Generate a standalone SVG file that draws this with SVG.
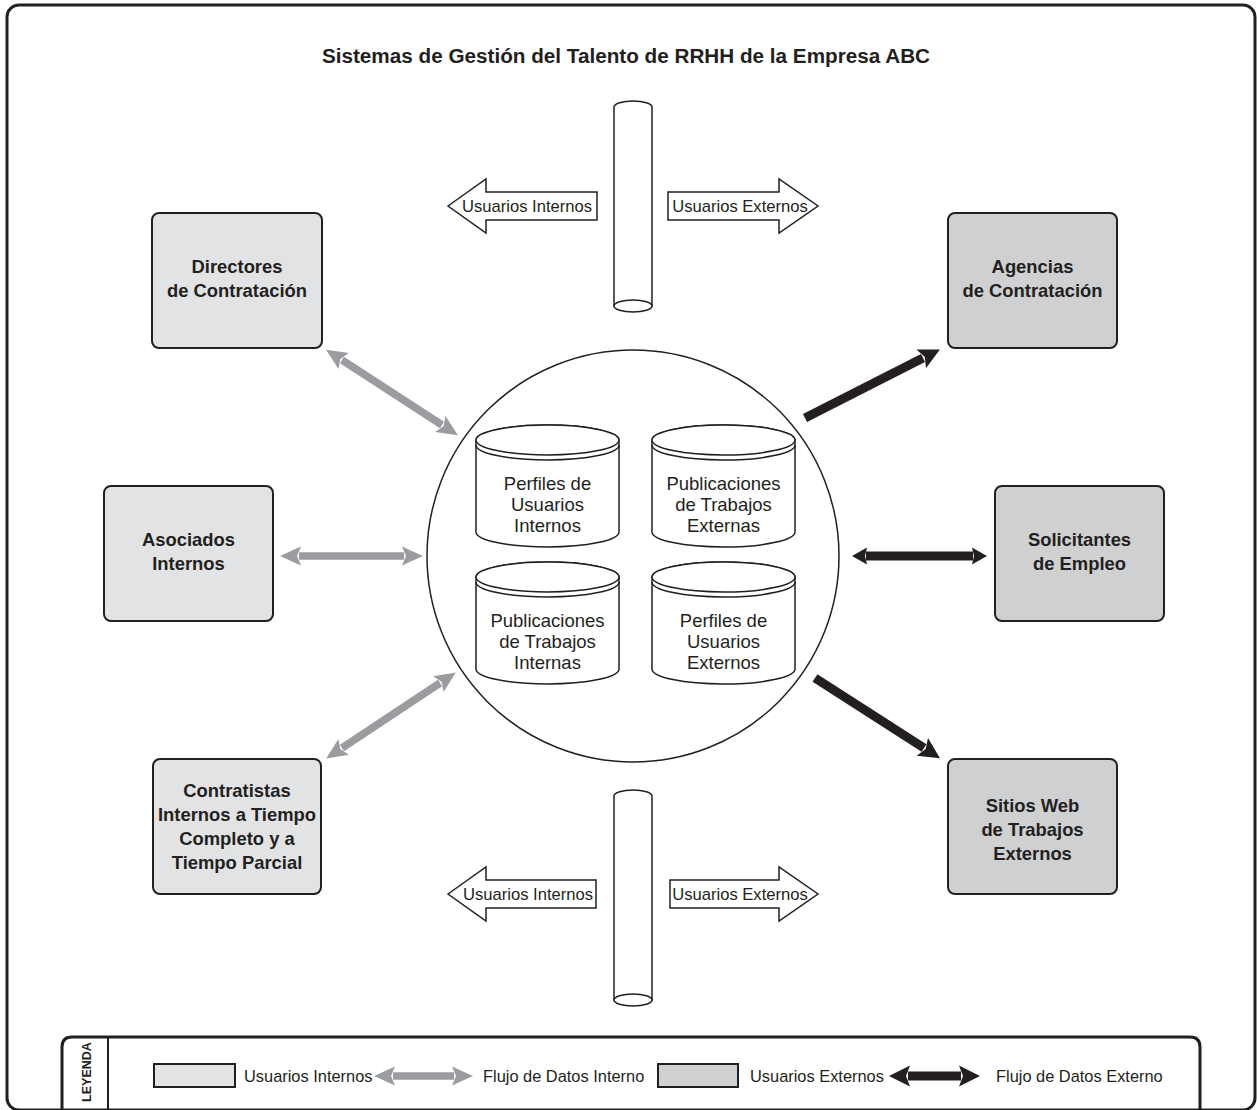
<svg xmlns="http://www.w3.org/2000/svg" xmlns:xlink="http://www.w3.org/1999/xlink" width="1257" height="1110" viewBox="0 0 1257 1110">
<style>
text{font-family:"Liberation Sans",Arial,sans-serif;fill:#231f20}
.title{font-size:20.7px;font-weight:bold}
.bx{font-size:18.4px;font-weight:bold;text-anchor:middle}
.cy{font-size:18.5px;text-anchor:middle}
.ar{font-size:16.6px;text-anchor:middle}
.lg{font-size:16.4px}
.int{fill:#e2e3e5;stroke:#231f20;stroke-width:2}
.ext{fill:#cfd0d2;stroke:#231f20;stroke-width:2}
.blk{fill:#fff;stroke:#231f20;stroke-width:1.5}
.gl{stroke:#9b9c9f;stroke-width:7.5;fill:none}
.bl{stroke:#231f20;stroke-width:9;fill:none}
</style>
<defs>
<marker id="hg" markerUnits="userSpaceOnUse" markerWidth="30" markerHeight="30" refX="0" refY="0" orient="auto-start-reverse" overflow="visible"><path d="M-2,-9.5 L19,0 L-2,9.5 L2,0 Z" fill="#9b9c9f"/></marker>
<marker id="hb" markerUnits="userSpaceOnUse" markerWidth="30" markerHeight="30" refX="0" refY="0" orient="auto-start-reverse" overflow="visible"><path d="M-2,-10.5 L19,0 L-2,10.5 L2,0 Z" fill="#231f20"/></marker>
<marker id="hbs" markerUnits="userSpaceOnUse" markerWidth="30" markerHeight="30" refX="0" refY="0" orient="auto-start-reverse" overflow="visible"><path d="M-1,-8.5 L14,0 L-1,8.5 L1,0 Z" fill="#231f20"/></marker>
<g id="cyl">
<path class="blk" d="M0,0 A71.5,15 0 0 1 143,0 L143,92 A71.5,15 0 0 1 0,92 Z"/>
<ellipse cx="71.5" cy="0" rx="71.5" ry="15" class="blk"/>
<path d="M0,5 A71.5,15 0 0 0 143,5" fill="none" stroke="#231f20" stroke-width="1.5"/>
</g>
</defs>

<rect id="frame" x="7" y="5" width="1248" height="1105" rx="12" fill="#fff" stroke="#231f20" stroke-width="3"/>
<text id="title" class="title" x="626" y="63" text-anchor="middle">Sistemas de Gestión del Talento de RRHH de la Empresa ABC</text>

<g id="pipe-top">
<path class="blk" d="M614,107 A19,6 0 0 1 652,107 L652,306 L614,306 Z"/>
<ellipse cx="633" cy="306" rx="19" ry="6" class="blk"/>
<polygon class="blk" points="448,206 486,179 486,192 597,192 597,220 486,220 486,233"/>
<text class="ar" x="527" y="212">Usuarios Internos</text>
<polygon class="blk" points="668,192 779,192 779,179 818,206 779,233 779,220 668,220"/>
<text class="ar" x="740" y="212">Usuarios Externos</text>
</g>

<g id="pipe-bottom">
<path class="blk" d="M614,796 A19,6 0 0 1 652,796 L652,1000 L614,1000 Z"/>
<ellipse cx="633" cy="1000" rx="19" ry="6" class="blk"/>
<polygon class="blk" points="448,894 486,867 486,880 596,880 596,908 486,908 486,921"/>
<text class="ar" x="528" y="900">Usuarios Internos</text>
<polygon class="blk" points="670,880 779,880 779,867 818,894 779,921 779,908 670,908"/>
<text class="ar" x="740" y="900">Usuarios Externos</text>
</g>

<g id="hub">
<circle cx="633" cy="556" r="206" fill="#fff" stroke="#231f20" stroke-width="1.5"/>
</g>

<g id="db-perfiles-internos">
<use xlink:href="#cyl" x="476" y="440"/>
<text class="cy" x="547.5" y="490">Perfiles de</text>
<text class="cy" x="547.5" y="511">Usuarios</text>
<text class="cy" x="547.5" y="532">Internos</text>
</g>
<g id="db-pub-externas">
<use xlink:href="#cyl" x="652" y="440"/>
<text class="cy" x="723.5" y="490">Publicaciones</text>
<text class="cy" x="723.5" y="511">de Trabajos</text>
<text class="cy" x="723.5" y="532">Externas</text>
</g>
<g id="db-pub-internas">
<use xlink:href="#cyl" x="476" y="577"/>
<text class="cy" x="547.5" y="627">Publicaciones</text>
<text class="cy" x="547.5" y="648">de Trabajos</text>
<text class="cy" x="547.5" y="669">Internas</text>
</g>
<g id="db-perfiles-externos">
<use xlink:href="#cyl" x="652" y="577"/>
<text class="cy" x="723.5" y="627">Perfiles de</text>
<text class="cy" x="723.5" y="648">Usuarios</text>
<text class="cy" x="723.5" y="669">Externos</text>
</g>

<g id="directores">
<rect class="int" x="152" y="213" width="170" height="135" rx="7"/>
<text class="bx" x="237" y="273">Directores</text>
<text class="bx" x="237" y="297">de Contratación</text>
</g>
<g id="asociados">
<rect class="int" x="104" y="486" width="169" height="135" rx="7"/>
<text class="bx" x="188.5" y="546">Asociados</text>
<text class="bx" x="188.5" y="570">Internos</text>
</g>
<g id="contratistas">
<rect class="int" x="153" y="759" width="168" height="135" rx="7"/>
<text class="bx" x="237" y="797">Contratistas</text>
<text class="bx" x="237" y="821">Internos a Tiempo</text>
<text class="bx" x="237" y="845">Completo y a</text>
<text class="bx" x="237" y="869">Tiempo Parcial</text>
</g>
<g id="agencias">
<rect class="ext" x="948" y="213" width="169" height="135" rx="7"/>
<text class="bx" x="1032.5" y="273">Agencias</text>
<text class="bx" x="1032.5" y="297">de Contratación</text>
</g>
<g id="solicitantes">
<rect class="ext" x="995" y="486" width="169" height="135" rx="7"/>
<text class="bx" x="1079.5" y="546">Solicitantes</text>
<text class="bx" x="1079.5" y="570">de Empleo</text>
</g>
<g id="sitios-web">
<rect class="ext" x="948" y="759" width="169" height="135" rx="7"/>
<text class="bx" x="1032.5" y="812">Sitios Web</text>
<text class="bx" x="1032.5" y="836">de Trabajos</text>
<text class="bx" x="1032.5" y="860">Externos</text>
</g>

<g id="connectors">
<line class="gl" x1="342" y1="360" x2="442" y2="425" marker-start="url(#hg)" marker-end="url(#hg)"/>
<line class="gl" x1="299" y1="556" x2="404" y2="556" marker-start="url(#hg)" marker-end="url(#hg)"/>
<line class="gl" x1="342" y1="748" x2="440" y2="683" marker-start="url(#hg)" marker-end="url(#hg)"/>
<line class="bl" x1="805" y1="418" x2="923" y2="358" marker-end="url(#hb)"/>
<line class="bl" x1="866" y1="556" x2="973" y2="556" stroke-width="8" marker-start="url(#hbs)" marker-end="url(#hbs)"/>
<line class="bl" x1="815" y1="678" x2="924" y2="748" marker-end="url(#hb)"/>
</g>

<g id="legend">
<path d="M62,1112 L62,1047 Q62,1037 72,1037 L1190,1037 Q1200,1037 1200,1047 L1200,1112" fill="none" stroke="#231f20" stroke-width="3"/>
<line x1="108" y1="1037" x2="108" y2="1112" stroke="#231f20" stroke-width="2"/>
<text x="87" y="1072" transform="rotate(-90 87 1072)" text-anchor="middle" dominant-baseline="central" font-size="12.5" font-weight="bold">LEYENDA</text>
<rect class="int" x="154" y="1064" width="81" height="23" stroke-width="1.5"/>
<text class="lg" x="244" y="1082">Usuarios Internos</text>
<line class="gl" x1="393" y1="1076" x2="454" y2="1076" marker-start="url(#hg)" marker-end="url(#hg)"/>
<text class="lg" x="483" y="1082">Flujo de Datos Interno</text>
<rect class="ext" x="658" y="1064" width="80" height="23" stroke-width="1.5"/>
<text class="lg" x="750" y="1082">Usuarios Externos</text>
<line class="bl" x1="908" y1="1076" x2="961" y2="1076" stroke-width="8" marker-start="url(#hb)" marker-end="url(#hb)"/>
<text class="lg" x="996" y="1082">Flujo de Datos Externo</text>
</g>
</svg>
